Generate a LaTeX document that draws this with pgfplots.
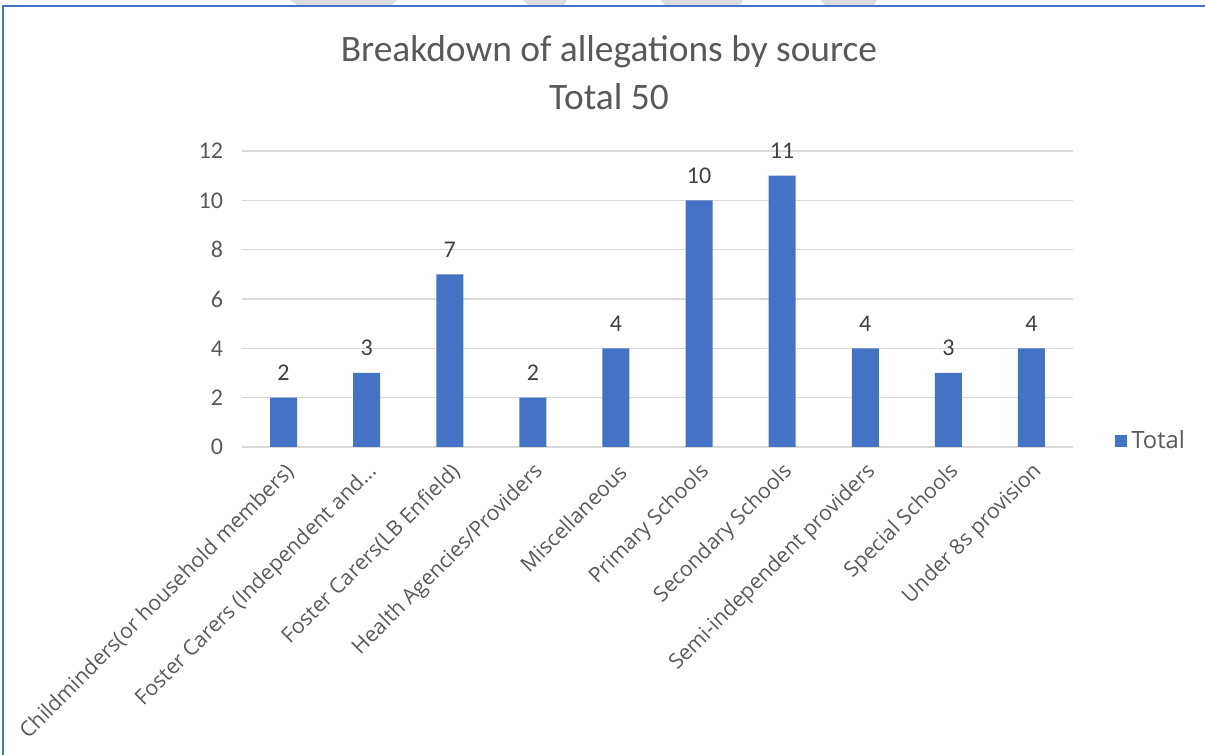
\documentclass[border=0pt]{standalone}
\usepackage{pgfplots}
\pgfplotsset{compat=1.18}
\usepackage{fontspec}
\setmainfont{Carlito}
\newfontfamily\labelfont{Open Sans}
\definecolor{barblue}{HTML}{4472C4}
\definecolor{txtgray}{HTML}{595959}
\definecolor{lblgray}{HTML}{404040}
\definecolor{gridgray}{HTML}{D9D9D9}
\definecolor{wmgray}{HTML}{DCDCDC}
\begin{document}
\begin{tikzpicture}
\path[use as bounding box] (0,0) rectangle (602.5pt,377.5pt);
% faint watermark fragments above the frame line
\fill[wmgray] (145pt,377.5pt) -- (198.5pt,377.5pt) -- (195pt,374pt) -- (150pt,374pt) -- cycle;
\fill[wmgray] (261.5pt,377.5pt) -- (283.5pt,377.5pt) -- (281.5pt,374pt) -- (265pt,374pt) -- cycle;
\fill[wmgray] (330pt,377.5pt) -- (371.5pt,377.5pt) -- (370pt,374pt) -- (333.5pt,374pt) -- cycle;
\fill[wmgray] (410pt,377.5pt) -- (438.5pt,377.5pt) -- (436.5pt,374pt) -- (413.5pt,374pt) -- cycle;
\draw[barblue, line width=1pt] (1.5pt,0) -- (1.5pt,374.5pt) -- (602.5pt,374.5pt);
\node[anchor=base, text=txtgray, font=\fontsize{18.7}{22}\selectfont] at (304.5pt,346.5pt) {Breakdown of allegations by source};
\node[anchor=base, text=txtgray, font=\fontsize{18.7}{22}\selectfont] at (304.5pt,322.5pt) {Total 50};
\begin{axis}[
  at={(121pt,154pt)}, anchor=south west,
  scale only axis, width=415.5pt, height=148pt,
  xmin=-0.5, xmax=9.5, ymin=0, ymax=12,
  ytick={0,2,4,6,8,10,12},
  xtick={0,1,2,3,4,5,6,7,8,9},
  xticklabels={{Childminders(or household members)},{Foster Carers (Independent and.{}.{}.},{Foster Carers(LB Enfield)},{Health Agencies/Providers},{Miscellaneous},{Primary Schools},{Secondary Schools},{Semi-independent providers},{Special Schools},{Under 8s provision}},
  xticklabel style={rotate=45, anchor=east, font=\labelfont\fontsize{10.6}{12}\selectfont, text=txtgray, inner sep=1pt, yshift=-7pt, xshift=-1pt},
  yticklabel style={font=\fontsize{12}{14}\selectfont, text=txtgray, xshift=-6pt},
  /pgf/number format/assume math mode=true,
  axis line style={draw=none},
  major tick style={draw=none},
  ymajorgrids, grid style={gridgray, line width=0.75pt},
  ybar, bar width=13.5pt,
  nodes near coords,
  nodes near coords style={font=\fontsize{12}{14}\selectfont, text=lblgray, yshift=5pt},
  legend style={draw=none, at={(1,0.02)}, anchor=west, xshift=18pt, font=\labelfont\fontsize{11.9}{13}\selectfont, text=txtgray},
  legend image code/.code={\fill[barblue] (0pt,-3pt) rectangle (6pt,3pt);},
]
\addplot[fill=barblue, draw=none] coordinates {(0,2) (1,3) (2,7) (3,2) (4,4) (5,10) (6,11) (7,4) (8,3) (9,4)};
\addlegendentry{Total}
\end{axis}
\end{tikzpicture}
\end{document}
